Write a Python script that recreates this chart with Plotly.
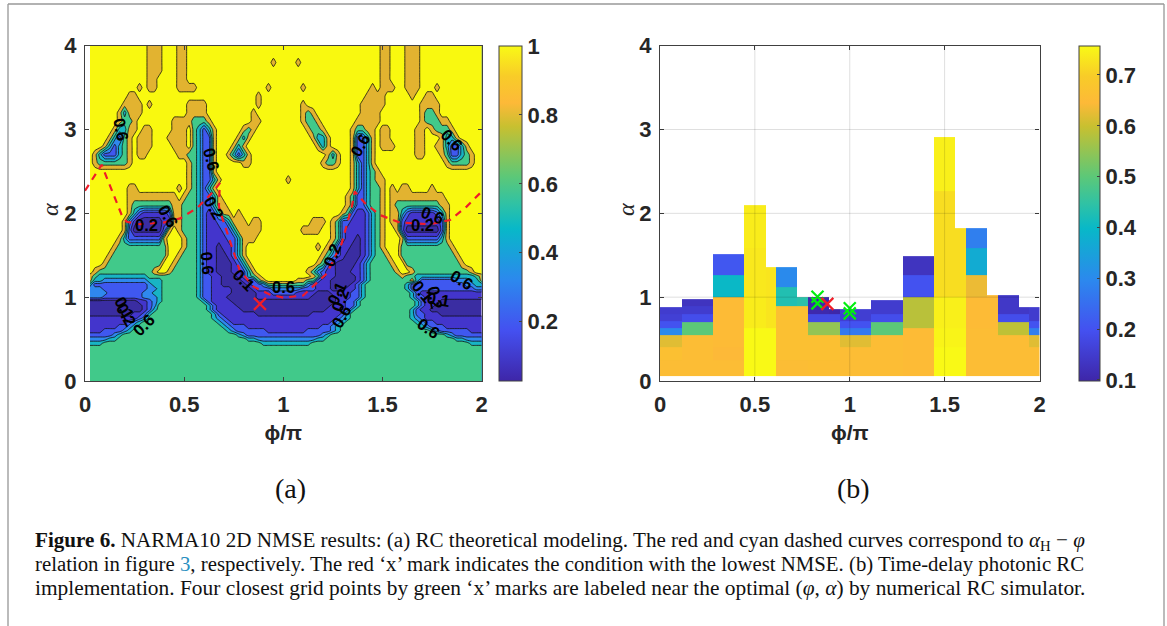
import plotly.graph_objects as go

# ---------- panel (a): NMSE band index ----------
# columns phi = 0.025 * k (k = 1..80); each row lists runs "band:last_column"
A_ALPHA = [0, .3, .4, .45, .5, .55, .6, .65, .7, .75, .8, .85, .9, .95, 1.0, 1.05, 1.1, 1.15, 1.2, 1.25, 1.3,
           1.4, 1.5, 1.6, 1.7, 1.8, 1.9, 2.0, 2.1, 2.2, 2.3, 2.4, 2.5, 2.6, 2.7, 2.8, 2.9, 3.0, 3.1, 3.2, 3.3,
           3.4, 3.5, 3.6, 3.7, 3.8, 3.9, 4.0]
A_RUNS = [
 "5:80",
 "5:80",
 "5:80",
 "4:3 5:35 4:45 5:77 4:80",
 "3:4 4:6 5:32 4:34 3:46 4:48 5:74 4:76 3:80",
 "2:5 3:6 4:7 5:30 4:31 3:32 2:47 3:48 4:49 5:72 4:73 3:74 2:80",
 "1:3 2:7 3:8 4:9 5:28 4:29 3:30 2:36 1:44 2:49 3:50 4:51 5:69 4:70 3:71 2:77 1:80",
 "1:6 2:8 3:9 4:10 5:27 4:28 3:29 2:32 1:47 2:49 3:50 4:51 5:67 4:68 3:69 2:72 1:80",
 "1:8 2:9 3:10 4:11 5:26 4:27 3:28 2:29 1:49 2:50 3:51 4:52 5:66 4:67 3:68 2:70 1:80",
 "1:10 2:11 3:12 5:25 4:26 3:27 2:28 1:50 2:51 3:52 4:53 5:65 4:66 3:67 2:68 1:80",
 "0:9 1:11 2:12 4:13 5:25 4:26 2:27 1:34 0:45 1:51 2:52 4:53 5:65 4:66 2:68 1:71 0:80",
 "0:11 1:12 2:13 4:14 5:24 4:25 2:26 1:31 0:48 1:52 2:53 4:54 5:65 4:66 2:67 1:69 0:80",
 "0:11 1:12 2:13 3:14 5:24 4:25 2:26 1:30 0:49 1:52 2:54 4:55 5:66 4:67 2:68 1:70 0:80",
 "0:10 1:12 2:13 3:14 4:15 5:23 4:24 2:25 1:29 0:50 1:52 2:54 4:55 5:66 4:67 2:68 1:71 0:80",
 "3:3 2:11 3:14 4:15 5:22 4:23 2:25 1:28 0:34 1:45 0:50 1:53 2:55 4:56 5:65 4:66 2:68 1:80",
 "3:4 2:11 3:13 4:15 5:22 4:23 2:25 1:29 0:34 1:37 2:42 1:46 0:49 1:53 2:55 4:56 5:65 4:66 2:67 1:80",
 "3:3 2:12 3:14 4:15 5:22 4:23 2:25 1:29 0:33 1:34 2:37 3:43 2:46 1:49 0:52 1:54 2:55 4:56 5:64 4:65 2:78 3:80",
 "4:1 2:12 3:13 4:15 5:22 4:23 2:25 1:27 0:32 1:33 2:35 3:36 5:44 3:45 2:46 1:49 0:53 1:54 2:55 4:56 5:64 4:65 2:76 3:78 4:80",
 "6:1 4:3 3:12 4:15 5:22 4:23 2:25 1:27 0:31 1:32 2:34 5:35 6:36 7:42 6:44 5:46 2:47 1:49 0:54 1:55 2:56 4:57 5:65 6:66 4:67 2:74 3:77 4:79 6:80",
 "6:1 5:2 4:12 5:22 4:23 2:25 1:27 0:30 1:31 2:32 4:33 5:34 6:35 7:45 6:46 5:47 2:48 1:50 0:54 1:55 2:56 4:57 5:63 6:64 5:66 4:78 5:79 6:80",
 "7:1 6:2 5:13 6:14 7:16 6:17 5:22 4:23 2:24 1:26 0:29 1:31 2:32 4:33 6:34 7:44 6:45 5:46 3:47 2:48 1:50 0:53 1:55 2:56 4:57 5:62 6:63 7:65 6:66 5:77 6:78 7:80",
 "7:3 6:4 5:15 7:17 6:18 5:22 4:23 2:24 1:26 0:29 1:30 2:31 4:32 6:33 7:46 6:47 5:48 2:49 1:50 0:54 1:55 2:56 4:57 5:61 6:62 7:64 5:75 6:76 7:80",
 "7:4 6:5 5:16 7:18 6:19 5:22 4:23 2:24 1:26 0:28 1:29 2:30 4:31 6:32 7:47 6:48 5:49 3:50 2:51 1:52 0:55 1:56 2:57 4:58 5:60 6:61 7:63 5:74 6:75 7:80",
 "7:5 6:6 5:16 7:19 6:20 5:22 4:23 2:24 1:26 0:27 1:29 2:30 4:31 6:32 7:46 6:47 7:48 6:49 5:50 2:51 1:53 0:55 1:56 2:57 4:58 5:59 6:60 7:63 5:73 6:74 7:80",
 "7:6 6:7 4:8 2:15 6:16 7:19 6:20 5:22 4:23 2:24 1:28 2:30 4:31 6:34 7:49 6:50 5:51 2:52 1:54 0:55 1:56 2:57 4:58 5:59 6:60 7:63 6:64 2:71 4:72 6:73 7:80",
 "7:7 6:8 2:9 0:15 2:16 6:17 7:18 6:19 5:22 4:23 2:24 1:27 2:29 4:30 6:35 7:43 6:47 7:49 6:50 5:51 2:52 1:56 2:57 4:58 5:59 6:60 7:62 6:63 2:64 0:71 2:72 6:73 7:80",
 "7:7 6:8 3:9 1:10 0:15 1:17 6:19 5:22 4:23 2:24 1:26 2:28 4:29 6:32 7:33 6:35 7:45 6:48 7:49 6:50 5:51 2:53 1:56 2:57 4:58 5:59 6:60 7:61 6:63 2:64 1:71 2:72 6:73 7:80",
 "7:8 6:9 4:10 2:11 1:16 2:17 6:19 5:22 4:23 2:24 1:25 2:26 4:27 6:29 7:30 6:31 7:51 6:52 5:53 2:54 1:56 2:57 4:58 5:59 6:60 7:61 6:63 4:64 2:65 1:70 2:71 4:72 6:73 7:80",
 "7:8 6:9 5:17 6:19 5:22 4:23 2:25 4:26 6:28 7:52 6:53 5:54 2:56 4:57 5:59 6:60 7:61 6:62 5:71 6:73 7:80",
 "7:8 6:18 7:19 6:20 5:22 4:23 2:25 4:26 6:27 7:52 6:53 5:54 2:56 4:57 5:59 6:60 7:61 6:72 7:80",
 "7:8 6:10 7:18 6:19 7:20 6:21 5:22 4:23 2:24 4:25 6:26 7:53 6:54 4:55 2:56 4:57 5:59 6:60 7:61 6:62 7:63 6:65 7:69 6:70 7:80",
 "7:20 6:21 5:22 4:23 2:25 4:26 6:27 7:40 6:41 7:53 6:54 4:55 2:56 4:57 5:58 6:60 7:80",
 "7:20 6:21 5:22 4:23 2:25 6:26 7:53 6:54 4:55 2:56 4:57 5:58 6:59 7:80",
 "7:1 6:2 5:8 6:9 7:20 6:21 5:22 4:23 2:25 6:26 7:31 6:33 7:47 6:48 5:50 6:51 7:53 6:54 4:55 2:56 4:57 6:58 7:72 6:73 5:77 6:78 7:80",
 "7:1 6:2 4:3 2:6 4:7 5:8 6:9 7:10 6:12 7:18 6:20 5:22 4:23 2:25 6:26 7:28 6:29 4:30 2:31 4:32 6:33 7:48 6:49 4:50 6:51 7:53 6:54 2:56 4:57 6:58 7:66 6:68 7:71 6:72 5:73 2:75 4:76 5:77 6:78 7:80",
 "7:3 6:4 4:5 2:6 4:7 5:8 6:9 7:10 6:13 7:17 6:20 7:21 5:22 4:23 2:25 6:26 7:29 6:30 4:31 6:32 7:46 6:47 4:48 6:49 7:53 6:54 2:56 4:57 6:58 7:59 6:62 7:66 6:68 7:70 6:72 4:73 2:75 4:76 6:77 7:80",
 "7:4 6:5 4:6 2:7 5:8 6:9 7:10 6:13 7:16 6:20 7:21 5:22 4:23 2:25 6:26 7:30 6:31 4:32 6:33 7:45 6:46 4:48 6:49 7:53 6:54 2:56 4:57 6:58 7:59 6:61 7:66 6:68 7:71 6:72 4:74 6:75 7:80",
 "7:5 6:6 4:8 6:10 7:11 6:13 7:17 6:20 7:21 5:22 4:23 2:24 4:25 6:26 7:31 6:32 5:33 6:34 7:44 6:45 5:47 6:48 7:53 6:54 5:56 6:58 7:59 6:61 7:66 6:68 7:69 6:70 5:73 6:74 7:80",
 "7:6 6:7 5:9 6:10 7:17 6:21 5:24 6:25 7:33 6:35 7:43 6:44 5:46 6:47 7:54 6:59 7:67 6:68 5:71 6:73 7:80",
 "7:6 6:7 4:8 6:11 7:20 6:24 7:33 6:34 7:43 6:44 5:45 6:46 7:55 6:59 7:67 6:68 5:70 6:71 7:80",
 "7:7 6:11 7:12 6:13 7:20 6:24 7:34 6:35 7:43 6:44 7:55 6:60 7:67 6:71 7:80",
 "7:8 6:10 7:34 6:35 7:56 6:60 7:65 6:66 7:68 6:70 7:80",
 "7:10 6:11 7:12 6:14 7:18 6:22 7:36 6:37 7:43 6:44 7:57 6:58 7:59 6:62 7:64 6:67 7:70 6:71 7:80",
 "7:12 6:14 7:18 6:20 7:59 6:61 7:64 6:67 7:80",
 "7:12 6:15 7:18 6:20 7:59 6:61 7:64 6:67 7:80",
 "7:12 6:15 7:18 6:20 7:37 6:38 7:42 6:43 7:59 6:61 7:64 6:67 7:80",
 "7:12 6:15 7:18 6:20 7:59 6:61 7:64 6:67 7:80",
 "7:12 6:15 7:18 6:20 7:59 6:61 7:64 6:67 7:80",
]
A_BAND_COLORS = ["#3a2da2", "#4335cc", "#3f58f0", "#2f88ee", "#18b4c4", "#41c98a", "#e2b330", "#f9f90f"]

CURVE_PHI = [0, .084, .185, .21, .277, .395, .48, .563, .647, .68, .675, .69, .78, .85, .933, 1.0, 1.10, 1.218,
             1.294, 1.345, 1.36, 1.412, 1.487, 1.588, 1.74, 1.84, 1.924, 2.0]
CURVE_ALPHA = [2.27, 2.58, 1.98, 1.90, 1.87, 1.89, 1.94, 2.06, 2.26, 2.36, 2.08, 1.96, 1.32, 1.125, 1.03, .995, 1.02,
               1.28, 1.64, 2.08, 2.26, 2.12, 1.98, 1.89, 1.87, 1.92, 2.08, 2.26]
BEST_PHI, BEST_ALPHA = [.882], [.92]

LABEL_TEXT = ["0.6", "0.2", "0.6", "0.6", "0.2", "0.6", "0.1", "0.6", "0.2", "0.1", "0.2", "0.6", "0.6",
              "0.6", "0.2", "0.6", "0.1", "0.2", "0.1", "0.6", "0.6", "0.1", "0.2", "0.6"]
LABEL_PHI = [.185, .31, .42, .64, .65, .62, .80, 1.0, 1.247, 1.27, 1.285, 1.295, 1.385, 1.85, 1.70, 1.75, 1.70,
             1.765, 1.78, 1.90, 1.73, .20, .21, .295]
LABEL_ALPHA = [3.0, 1.86, 1.97, 2.64, 2.06, 1.40, 1.2, 1.125, 1.50, 1.05, .97, .77, 2.82, 2.87, 1.86, 1.98, 1.07,
               1.0, .98, 1.2, .63, .87, .79, .67]
LABEL_ANGLE = [80, 0, 60, 75, 60, 85, 45, 0, -70, -65, -70, -60, -60, 45, 0, 20, 50, 80, 10, 30, 35, 60, 60, -45]

# ---------- panel (b): cells, column by column ----------
B_PHI_EDGES = [0, .114, .281, .445, .557, .612, .724, .779, .891, .947, 1.112, 1.281, 1.446, 1.557, 1.613, 1.724,
               1.78, 1.891, 1.947, 2]
B_FLOOR = .064
B_TOPS = [
 [.25, .40, .55, .636, .71, .80, .88],
 [.55, .70, .80, .895, .98],
 [.25, .40, 1.0, 1.265, 1.52],
 [.636, 1.0, 1.59, 2.10],
 [.636, 1.355],
 [.25, .895, 1.125, 1.355],
 [.25, .895, 1.0],
 [.25, .55, .70, .80, 1.0],
 [.25, .55, .70, .80, .855],
 [.40, .55, .636, .71, .855],
 [.55, .70, .80, .96],
 [.636, 1.0, 1.265, 1.49],
 [.40, .636, 1.0, 2.26, 2.91],
 [.40, .636, 1.0, 1.83],
 [.636, 1.0, 1.265, 1.59, 1.83],
 [.636, 1.03],
 [.55, .70, .80, 1.03],
 [.55, .70, .80, .88],
 [.40, .55, .636, .71, .88],
]
B_VALS = [
 [.655, .665, .62, .30, .20, .16, .15],
 [.655, .50, .19, .15, .13],
 [.655, .645, .65, .40, .21],
 [.757, .74, .735, .74],
 [.757, .73],
 [.655, .665, .43, .30],
 [.655, .665, .44],
 [.66, .665, .55, .18, .105],
 [.66, .665, .55, .18, .10],
 [.655, .62, .27, .20, .155],
 [.655, .50, .19, .15],
 [.65, .585, .20, .13],
 [.757, .75, .745, .72, .745],
 [.757, .75, .745, .72],
 [.655, .65, .63, .37, .28],
 [.655, .65],
 [.655, .59, .19, .14],
 [.655, .59, .19, .14],
 [.655, .62, .28, .20, .15],
]
NEAR_PHI = [.83, .83, 1.0, 1.0]
NEAR_ALPHA = [1.006, .926, .867, .807]

AXIS_X_TICKS = [0, .5, 1, 1.5, 2]
AXIS_X_LABELS = ["0", "0.5", "1", "1.5", "2"]
AXIS_Y_TICKS = [0, 1, 2, 3, 4]

CMAP = [[0, "#3e26a8"], [.15, "#4450f0"], [.3, "#2c88ee"], [.455, "#08b8c8"], [.53, "#30c2a4"], [.61, "#5cc878"],
        [.76, "#c8c030"], [.83, "#fdb938"], [.91, "#f8cc28"], [1, "#f9f916"]]
CBAR_A = (.028, 1.0)
CBAR_B = (.098, .757)

# ---------- build ----------
A_PHI = [.025 * k for k in range(1, 81)]


def expand(runs):
    out = [None] * 80
    start = 0
    for tok in runs.split():
        band, end = tok.split(":")
        for i in range(start, int(end)):
            out[i] = int(band)
        start = max(start, int(end))
    assert start == 80, runs
    return out


z_a = [expand(r) for r in A_RUNS]
assert len(z_a) == len(A_ALPHA)
n = len(A_BAND_COLORS)
stepped = []
for i, c in enumerate(A_BAND_COLORS):
    stepped += [[i / n, c], [(i + 1) / n, c]]

b_y = sorted({B_FLOOR} | {t for col in B_TOPS for t in col})
z_b = []
for lo, hi in zip(b_y[:-1], b_y[1:]):
    mid = (lo + hi) / 2
    row = []
    for tops, vals in zip(B_TOPS, B_VALS):
        v = None
        for t, val in zip(tops, vals):
            if mid < t:
                v = val
                break
        row.append(v)
    z_b.append(row)

W, H = 1167, 626
AX_A = (85, 481.7)
AX_B = (660, 1039.5)
AX_Y = (45.7, 381)
TICK_FONT = dict(family="Liberation Sans", size=22, color="#262626", weight=700)
BOX = "#404040"

fig = go.Figure()
fig.add_trace(go.Contour(x=A_PHI, y=A_ALPHA, z=z_a, xaxis="x", yaxis="y", autocontour=False, showscale=False,
                         contours=dict(start=.5, end=n - 1.5, size=1, coloring="fill", showlines=True),
                         line=dict(color="#101010", width=.8, smoothing=.3),
                         colorscale=stepped, zmin=0, zmax=n - 1, hoverinfo="skip", connectgaps=False))
fig.add_trace(go.Scatter(x=CURVE_PHI, y=CURVE_ALPHA, mode="lines", xaxis="x", yaxis="y",
                         line=dict(color="#f01c28", width=2.2, dash="7px,6px")))
fig.add_trace(go.Scatter(x=BEST_PHI, y=BEST_ALPHA, mode="markers", xaxis="x", yaxis="y",
                         marker=dict(symbol="x-thin", size=12, line=dict(color="#f01c28", width=2.2))))
# continuous colour bar of panel (a)
fig.add_trace(go.Scatter(x=[None], y=[None], mode="markers", xaxis="x", yaxis="y", showlegend=False,
                         marker=dict(color=list(CBAR_A), cmin=CBAR_A[0], cmax=CBAR_A[1], colorscale=CMAP,
                                     showscale=True,
                                     colorbar=dict(x=499 / W, xanchor="left", xpad=0, ypad=0, thickness=23,
                                                   thicknessmode="pixels", lenmode="fraction",
                                                   len=(AX_Y[1] - AX_Y[0]) / H, y=(H - AX_Y[1]) / H, yanchor="bottom",
                                                   tickvals=[.2, .4, .6, .8, 1], ticktext=["0.2", "0.4", "0.6", "0.8", "1"],
                                                   ticks="inside", ticklen=3, tickcolor=BOX, tickfont=TICK_FONT,
                                                   outlinecolor=BOX, outlinewidth=1))))
fig.add_trace(go.Heatmap(x=B_PHI_EDGES, y=b_y, z=z_b, xaxis="x2", yaxis="y2", zmin=CBAR_B[0], zmax=CBAR_B[1],
                         colorscale=CMAP, hoverongaps=False,
                         colorbar=dict(x=1079 / W, xanchor="left", xpad=0, ypad=0, thickness=21,
                                       thicknessmode="pixels", lenmode="fraction",
                                       len=(AX_Y[1] - AX_Y[0]) / H, y=(H - AX_Y[1]) / H, yanchor="bottom",
                                       tickvals=[.1, .2, .3, .4, .5, .6, .7],
                                       ticktext=["0.1", "0.2", "0.3", "0.4", "0.5", "0.6", "0.7"],
                                       ticks="inside", ticklen=3, tickcolor=BOX, tickfont=TICK_FONT,
                                       outlinecolor=BOX, outlinewidth=1)))
fig.add_trace(go.Scatter(x=NEAR_PHI, y=NEAR_ALPHA, mode="markers", xaxis="x2", yaxis="y2",
                         marker=dict(symbol="x-thin", size=12, line=dict(color="#00ee10", width=2.2))))
fig.add_trace(go.Scatter(x=BEST_PHI, y=BEST_ALPHA, mode="markers", xaxis="x2", yaxis="y2",
                         marker=dict(symbol="x-thin", size=12, line=dict(color="#f01c28", width=2.2))))


def xax(dom, anchor):
    return dict(domain=[dom[0] / W, dom[1] / W], anchor=anchor, range=[0, 2], tickvals=AXIS_X_TICKS,
                ticktext=AXIS_X_LABELS, ticks="inside", ticklen=4, tickcolor=BOX, showline=True, linecolor=BOX,
                linewidth=1.2, mirror="ticks", showgrid=False, zeroline=False, tickfont=TICK_FONT,
                ticklabelstandoff=3,
                title=dict(text="<b>ϕ/π</b>", standoff=9,
                           font=dict(family="Liberation Sans", size=21, color="#262626")))


def yax(anchor):
    return dict(domain=[(H - AX_Y[1]) / H, (H - AX_Y[0]) / H], anchor=anchor, range=[0, 4], tickvals=AXIS_Y_TICKS,
                ticks="inside", ticklen=4, tickcolor=BOX, showline=True, linecolor=BOX, linewidth=1.2, mirror="ticks",
                showgrid=False, zeroline=False, tickfont=TICK_FONT, ticklabelstandoff=3)


ann = []
for t, p, a, ang in zip(LABEL_TEXT, LABEL_PHI, LABEL_ALPHA, LABEL_ANGLE):
    ann.append(dict(text=t, x=p, y=a, xref="x", yref="y", textangle=ang, showarrow=False,
                    font=dict(family="Liberation Sans", size=16.5, color="#000000", weight=700)))
for px in (50, 626):
    ann.append(dict(text="<i>α</i>", x=px / W, y=(H - 210) / H, xref="paper", yref="paper", xanchor="center",
                    yanchor="middle", textangle=-90, showarrow=False,
                    font=dict(family="Liberation Serif", size=24, color="#262626")))
for t, px in (("(a)", 290), ("(b)", 853)):
    ann.append(dict(text=t, x=px / W, y=(H - 488) / H, xref="paper", yref="paper", xanchor="center", yanchor="middle",
                    showarrow=False, font=dict(family="Liberation Serif", size=28, color="#111111")))
CAPTION = [
    "<b>Figure 6.</b> NARMA10 2D NMSE results: (a) RC theoretical modeling. The red and cyan dashed curves correspond to <i>α</i><sub>H</sub> − <i>φ</i>",
    "relation in figure <span style='color:#2a8fc0'>3</span>, respectively. The red ‘x’ mark indicates the condition with the lowest NMSE. (b) Time-delay photonic RC",
    "implementation. Four closest grid points by green ‘x’ marks are labeled near the optimal (<i>φ</i>, <i>α</i>) by numerical RC simulator.",
]
for line, ypx, fs in zip(CAPTION, (541, 564, 588), (21.1, 20.8, 21.4)):
    ann.append(dict(text=line, x=33 / W, y=(H - ypx) / H, xref="paper", yref="paper", xanchor="left", yanchor="middle",
                    align="left", showarrow=False, font=dict(family="Liberation Serif", size=fs, color="#111111")))

shapes = [dict(type="line", xref="paper", yref="paper", x0=8 / W, x1=8 / W, y0=0, y1=1 - 4 / H,
               line=dict(color="#bbbbbb", width=2)),
          dict(type="line", xref="paper", yref="paper", x0=1164 / W, x1=1164 / W, y0=0, y1=1 - 4 / H,
               line=dict(color="#bbbbbb", width=2)),
          dict(type="line", xref="paper", yref="paper", x0=8 / W, x1=1164 / W, y0=1 - 4 / H, y1=1 - 4 / H,
               line=dict(color="#999999", width=1.5))]
for v in AXIS_X_TICKS[1:-1]:
    shapes.append(dict(type="line", xref="x2", yref="y2", x0=v, x1=v, y0=0, y1=4, layer="above",
                       line=dict(color="rgba(0,0,0,0.13)", width=1)))
for v in AXIS_Y_TICKS[1:-1]:
    shapes.append(dict(type="line", xref="x2", yref="y2", x0=0, x1=2, y0=v, y1=v, layer="above",
                       line=dict(color="rgba(0,0,0,0.13)", width=1)))

fig.update_layout(width=W, height=H, margin=dict(l=0, r=0, t=0, b=0, autoexpand=False), autosize=False,
                  paper_bgcolor="white", plot_bgcolor="white", showlegend=False, annotations=ann, shapes=shapes,
                  xaxis=xax(AX_A, "y"), yaxis=yax("x"), xaxis2=xax(AX_B, "y2"), yaxis2=yax("x2"),
                  font=dict(family="Liberation Sans"))
fig.write_html("out.html", config=dict(displayModeBar=False),
               post_script="document.body.style.margin='0';document.documentElement.style.overflow='hidden';")
